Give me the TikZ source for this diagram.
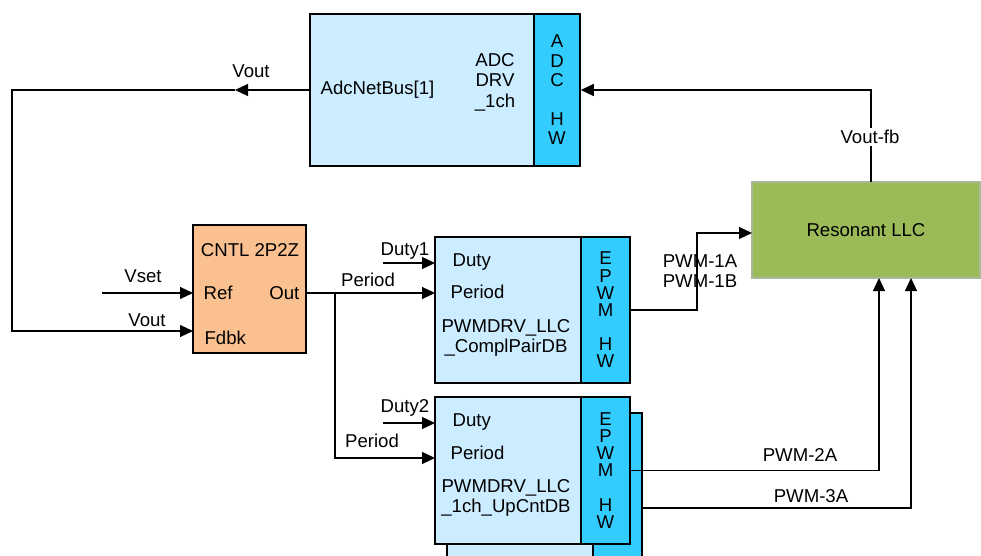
\documentclass[tikz,border=0pt]{standalone}
\usepackage{fontspec}
\setmainfont{Liberation Sans}
\usetikzlibrary{arrows.meta}

\definecolor{drvblue}{HTML}{CCECFF}
\definecolor{hwblue}{HTML}{33CCFF}
\definecolor{cntlorange}{HTML}{FAC090}
\definecolor{llcgreen}{HTML}{9BBB59}
\definecolor{llcedge}{HTML}{A9B79A}

\tikzset{
  blk/.style={draw, line width=0.75pt, inner sep=0pt},
  hwtext/.style={align=center, inner sep=0pt},
  lbl/.style={inner sep=1pt}
}

\begin{document}
\begin{tikzpicture}[x=0.5pt, y=-0.5pt, line width=0.6pt,
    font=\fontsize{9.3}{10.3}\selectfont,
    >={Triangle[length=6.5pt,width=6pt]}]

    \useasboundingbox (0,0) rectangle (981,556);

    % second pwm driver, stacked copy behind
    \node[blk, fill=drvblue, minimum width=73pt, minimum height=73.5pt] (drv3) at (520,486.5) {};
    \node[blk, fill=hwblue, minimum width=24.5pt, minimum height=73.5pt] (hw3) at (617.5,486.5) {};

    % blocks
    \node[blk, fill=drvblue, minimum width=112pt, minimum height=76pt] (adc) at (422,90) {};
    \node[blk, fill=hwblue, minimum width=23pt, minimum height=76pt] (adchw) at (557,90) {};
    \node[blk, fill=cntlorange, minimum width=56.5pt, minimum height=64pt] (cntl) at (249.5,289) {};
    \node[blk, fill=drvblue, minimum width=73pt, minimum height=73pt] (drv1) at (508,310) {};
    \node[blk, fill=hwblue, minimum width=24.5pt, minimum height=73pt] (hw1) at (605.5,310) {};
    \node[blk, fill=drvblue, minimum width=73pt, minimum height=73.5pt] (drv2) at (508,470.5) {};
    \node[blk, fill=hwblue, minimum width=24.5pt, minimum height=73.5pt] (hw2) at (605.5,470.5) {};
    \node[draw=llcedge, fill=llcgreen, minimum width=114pt, minimum height=48pt] (llc) at (866,230) {Resonant LLC};

    % texts in the blocks
    \node[anchor=west, inner sep=0pt] (adcbus) at (320,90) {AdcNetBus[1]};
    \node[align=center, inner sep=0pt] (adcdrv) at (495,82) {ADC\\DRV\\\_1ch};
    \node[hwtext, font=\fontsize{9.3}{9.7}\selectfont] (adchwtxt) at (adchw) {A\\D\\C\\[9.7pt]H\\W};
    \node[inner sep=0pt] (cntlname) at (250,250) {CNTL 2P2Z};
    \node[anchor=west, inner sep=0pt] (ref) at (203,293) {Ref};
    \node[anchor=east, inner sep=0pt] (out) at (300,293) {Out};
    \node[anchor=west, inner sep=0pt] (fdbk) at (204,338) {Fdbk};
    \node[anchor=west, inner sep=0pt] (duty1) at (452,262) {Duty};
    \node[anchor=west, inner sep=0pt] (per1) at (450,292) {Period};
    \node[align=center, inner sep=0pt] (drv1name) at (506,338) {PWMDRV\_LLC\\\_ComplPairDB};
    \node[hwtext, font=\fontsize{9.3}{8.6}\selectfont] (hw1txt) at (hw1) {E\\P\\W\\M\\[8.6pt]H\\W};
    \node[anchor=west, inner sep=0pt] (duty2) at (452,422) {Duty};
    \node[anchor=west, inner sep=0pt] (per2) at (450,453) {Period};
    \node[align=center, inner sep=0pt] (drv2name) at (506,498) {PWMDRV\_LLC\\\_1ch\_UpCntDB};
    \node[hwtext, font=\fontsize{9.3}{8.6}\selectfont] (hw2txt) at (hw2) {E\\P\\W\\M\\[8.6pt]H\\W};

    % ports and bends
    \coordinate (vtip) at (235,90);
    \coordinate (vleft) at (12,90);
    \coordinate (fdbkport) at (193,331);
    \coordinate (vsetin) at (102,293);
    \coordinate (refport) at (193,293);
    \coordinate (outport) at (306,293);
    \coordinate (branch) at (335,293);
    \coordinate (per1port) at (435,293);
    \coordinate (per2port) at (435,458);
    \coordinate (duty1in) at (383,263);
    \coordinate (duty1port) at (435,263);
    \coordinate (duty2in) at (383,423);
    \coordinate (duty2port) at (435,423);
    \coordinate (pwm1bend) at (697,310);
    \coordinate (llcin) at (752,233);
    \coordinate (llc2a) at (879,278);
    \coordinate (pwm3out) at (642,508);
    \coordinate (llc3a) at (911,278);
    \coordinate (llcfb) at (871,182);

    % connectors
    \draw [->] (adc.west) -- (vtip);
    \draw [->] (vtip) -- (vleft) |- (fdbkport);
    \draw [->] (vsetin) -- (refport);
    \draw [->] (outport) -- (per1port);
    \draw [->] (branch) |- (per2port);
    \draw [->] (duty1in) -- (duty1port);
    \draw [->] (duty2in) -- (duty2port);
    \draw [->] (hw1.east) -- (pwm1bend) |- (llcin);
    \draw [->] (hw2.east) -| (llc2a);
    \draw [->] (pwm3out) -| (llc3a);
    \draw [->] (llcfb) |- (adchw.east);

    % signal names
    \node[lbl] (lvout) at (251,71) {Vout};
    \node[lbl, fill=white] (lvoutfb) at (870,137) {Vout-fb};
    \node[lbl] (lvset) at (143,276) {Vset};
    \node[lbl] (lvoutin) at (147,320) {Vout};
    \node[lbl] (lduty1) at (405,251) {Duty1};
    \node[lbl] (lper1) at (368,280) {Period};
    \node[lbl] (lduty2) at (405,408) {Duty2};
    \node[lbl] (lper2) at (372,441) {Period};
    \node[lbl, align=center] (lpwm1) at (700,271) {PWM-1A\\PWM-1B};
    \node[lbl] (lpwm2) at (800,455) {PWM-2A};
    \node[lbl] (lpwm3) at (811,496) {PWM-3A};

\end{tikzpicture}
\end{document}
